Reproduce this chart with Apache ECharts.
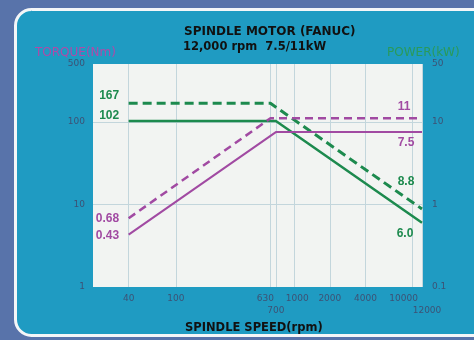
<!DOCTYPE html>
<html><head><meta charset="utf-8">
<script src="https://cdn.jsdelivr.net/npm/echarts@6/dist/echarts.min.js"></script>
<style>html,body{margin:0;padding:0;background:#5873aa;}#c{width:474px;height:340px;}</style>
</head><body><div id="c"></div>
<script>
// ---- data ----
const speedTicks = [40, 100, 630, 700, 1000, 2000, 4000, 10000, 12000];
const speedLabelsRow1 = [40, 100, 630, 1000, 2000, 4000, 10000];
const speedLabelsRow2 = [700, 12000];
const torqueTicks = [1, 10, 100, 500];
const powerTicks = [0.1, 1, 10, 50];
// torque (Nm) vs speed (rpm)
const torqueS1 = [[40, 102], [700, 102], [12000, 6.0]];
const torqueS2 = [[40, 167], [630, 167], [12000, 8.8]];
// power (kW) vs speed (rpm)
const powerS1 = [[40, 0.43], [700, 7.5], [12000, 7.5]];
const powerS2 = [[40, 0.68], [630, 11], [12000, 11]];

const GREEN = '#1d8a4e', MAGENTA = '#a14aa2';
const labFont = {fontFamily: 'Liberation Sans', fontWeight: 'bold', fontSize: 12};

function withLabels(data, color, first, last) {
  return data.map((d, i) => {
    const item = {value: d};
    if (i === 0 && first) item.label = Object.assign({show: true, color, formatter: () => String(d[1])}, labFont, first);
    if (i === data.length - 1 && last) item.label = Object.assign({show: true, color, formatter: () => d[1].toFixed(d[1] < 10 ? 1 : 0)}, labFont, last);
    return item;
  });
}

const chart = echarts.init(document.getElementById('c'));
const tickFont = {fontFamily: 'DejaVu Sans', fontSize: 9, color: '#3d5275'};
const richShift = {
  l5: {padding: [0, 10, 0, 0]}, l9: {padding: [0, 18, 0, 0]},
  r3: {padding: [0, 0, 0, 6]}, r5: {padding: [0, 0, 0, 10]}, n: {}
};
const shiftOf = {630: 'l5', 10000: 'l9', 1000: 'r3', 12000: 'r5'};
const fmtSpeed = v => { const r = Math.round(v); return '{' + (shiftOf[r] || 'n') + '|' + r + '}'; };
const lineBase = {type: 'line', symbol: 'circle', symbolSize: 1, showSymbol: true, itemStyle: {color: 'rgba(0,0,0,0)'}, label: {show: false}};
chart.setOption({
  animation: false,
  backgroundColor: '#5873aa',
  graphic: [
    {type: 'rect', shape: {x: 15.5, y: 9.5, width: 480, height: 326, r: 16}, style: {fill: '#1f9bc2', stroke: '#f4f6f8', lineWidth: 3}, z: -10},
    {type: 'text', left: 184, top: 26, style: {text: 'SPINDLE MOTOR (FANUC)', font: 'bold 12px "DejaVu Sans"', fill: '#111'}},
    {type: 'text', left: 183, top: 41, style: {text: '12,000 rpm  7.5/11kW', font: 'bold 11.5px "DejaVu Sans"', fill: '#111'}},
    {type: 'text', left: 35, top: 47, style: {text: 'TORQUE(Nm)', font: '12px "DejaVu Sans"', fill: '#b04aa8'}},
    {type: 'text', left: 387, top: 47, style: {text: 'POWER(kW)', font: '12px "DejaVu Sans"', fill: '#2a9a5a'}},
    {type: 'text', left: 185, top: 322, style: {text: 'SPINDLE SPEED(rpm)', font: 'bold 11.5px "DejaVu Sans"', fill: '#111'}}
  ],
  grid: {left: 93, right: 52, top: 64, bottom: 53, show: true, backgroundColor: '#f2f4f2', borderWidth: 0},
  xAxis: [{
    type: 'log', logBase: 10, min: 20, max: 12000,
    axisLine: {show: false},
    axisTick: {show: false, customValues: speedTicks},
    splitLine: {show: true, lineStyle: {color: '#c3d6dc', width: 1}},
    axisLabel: Object.assign({customValues: speedLabelsRow1, margin: 7, hideOverlap: false, formatter: fmtSpeed, rich: richShift}, tickFont)
  }, {
    type: 'log', logBase: 10, min: 20, max: 12000, position: 'bottom',
    axisLine: {show: false},
    axisTick: {show: false, customValues: speedLabelsRow2},
    splitLine: {show: false},
    axisLabel: Object.assign({customValues: speedLabelsRow2, margin: 19, showMaxLabel: true, formatter: fmtSpeed, rich: richShift}, tickFont)
  }],
  yAxis: [{
    type: 'log', logBase: 10, min: 1, max: 500,
    axisLine: {show: false},
    axisTick: {show: false, customValues: [10, 100]},
    splitLine: {show: true, lineStyle: {color: '#c3d6dc', width: 1}},
    axisLabel: Object.assign({customValues: torqueTicks, margin: 8, formatter: v => String(Math.round(v))}, tickFont)
  }, {
    type: 'log', logBase: 10, min: 0.1, max: 50, position: 'right',
    axisLine: {show: false}, axisTick: {show: false}, splitLine: {show: false},
    axisLabel: Object.assign({customValues: powerTicks, margin: 10, formatter: v => String(+v.toPrecision(2))}, tickFont)
  }],
  series: [
    Object.assign({}, lineBase, {yAxisIndex: 0, lineStyle: {color: GREEN, width: 3, type: [9, 5]},
     data: withLabels(torqueS2, GREEN, {position: 'left', offset: [-4, -8]}, {position: 'top', offset: [-16, -16]})}),
    Object.assign({}, lineBase, {yAxisIndex: 0, lineStyle: {color: GREEN, width: 2.5},
     data: withLabels(torqueS1, GREEN, {position: 'left', offset: [-4, -5]}, {position: 'bottom', offset: [-17, -1]})}),
    Object.assign({}, lineBase, {yAxisIndex: 1, lineStyle: {color: MAGENTA, width: 2.5, type: [8, 5]},
     data: withLabels(powerS2, MAGENTA, {position: 'left', offset: [-4, 0]}, {position: 'top', offset: [-18, 0]})}),
    Object.assign({}, lineBase, {yAxisIndex: 1, lineStyle: {color: MAGENTA, width: 2},
     data: withLabels(powerS1, MAGENTA, {position: 'left', offset: [-4, 1]}, {position: 'bottom', offset: [-16, -1]})})
  ]
});
</script></body></html>
